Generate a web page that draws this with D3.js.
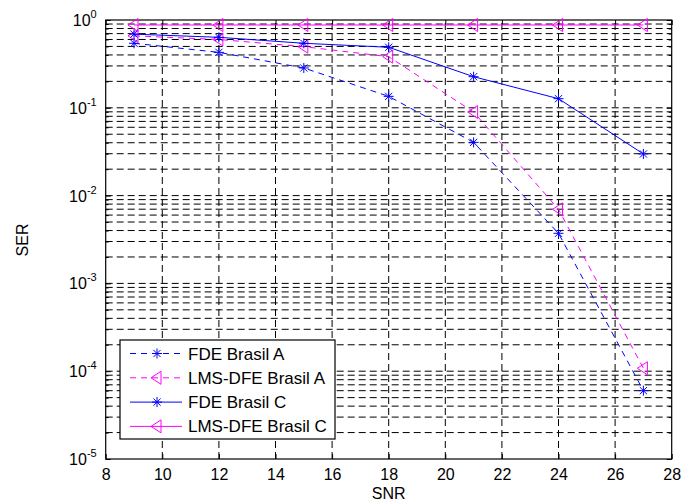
<!DOCTYPE html>
<html>
<head>
<meta charset="utf-8">
<script src="https://cdn.jsdelivr.net/npm/d3@7"></script>
<style>
  body { margin: 0; background: #fff; }
  svg { font-family: "Liberation Sans", Arial, sans-serif; }
</style>
</head>
<body>
<svg id="chart" width="697" height="504"></svg>
<script>
// dati
var snr = [9, 12, 15, 18, 21, 24, 27];
var fdeA = [0.543, 0.428, 0.284, 0.135, 0.0404, 0.00372, 6.0e-5];
var lmsA = [0.66, 0.60, 0.497, 0.382, 0.0896, 0.00698, 1.08e-4];
var fdeC = [0.69, 0.635, 0.543, 0.489, 0.226, 0.127, 0.0298];
var lmsC = [0.877, 0.877, 0.877, 0.877, 0.877, 0.877, 0.877];
var seriesNames = ["FDE Brasil A", "LMS-DFE Brasil A", "FDE Brasil C", "LMS-DFE Brasil C"];
var xTicks = [8, 10, 12, 14, 16, 18, 20, 22, 24, 26, 28];
var yDecades = [1e-5, 1e-4, 1e-3, 1e-2, 1e-1, 1];
var yExps = [-5, -4, -3, -2, -1, 0];

var svg = d3.select("#chart");
var pLeft = 105.7, pRight = 671.7, pTop = 20, pBottom = 459;

var x = d3.scaleLinear().domain([8, 28]).range([pLeft, pRight]);
var y = d3.scaleLog().domain([1e-5, 1]).range([pBottom, pTop]);

// valori minori della scala log
var minor = [];
yDecades.slice(0, 5).forEach(d => {
  for (var k = 2; k <= 9; k++) minor.push(d * k);
});

// griglia tratteggiata
var grid = svg.append("g").attr("stroke", "#000").attr("stroke-width", 1)
  .attr("stroke-dasharray", "7,4").attr("fill", "none");
xTicks.slice(1, -1).forEach(t => {
  grid.append("line").attr("x1", x(t)).attr("x2", x(t)).attr("y1", pBottom).attr("y2", pTop);
});
yDecades.slice(1, -1).concat(minor).forEach(v => {
  grid.append("line").attr("x1", pLeft).attr("x2", pRight).attr("y1", y(v)).attr("y2", y(v));
});

// assi con tacche interne
var gx = svg.append("g").attr("transform", `translate(0,${pBottom})`)
  .call(d3.axisBottom(x).tickValues(xTicks).tickSize(-5).tickPadding(10).tickFormat(d3.format("d")));
svg.append("g").attr("transform", `translate(0,${pTop})`)
  .call(d3.axisTop(x).tickValues(xTicks).tickSize(-5).tickFormat(""));
svg.append("g").attr("transform", `translate(${pLeft},0)`)
  .call(d3.axisLeft(y).tickValues(yDecades).tickSize(-5).tickFormat(""));
svg.append("g").attr("transform", `translate(${pRight},0)`)
  .call(d3.axisRight(y).tickValues(yDecades).tickSize(-5).tickFormat(""));
svg.append("g").attr("transform", `translate(${pLeft},0)`)
  .call(d3.axisLeft(y).tickValues(minor).tickSize(-3).tickFormat(""));
svg.append("g").attr("transform", `translate(${pRight},0)`)
  .call(d3.axisRight(y).tickValues(minor).tickSize(-3).tickFormat(""));

svg.selectAll(".domain").remove();
svg.selectAll(".tick line").attr("stroke", "#000");
gx.selectAll("text").attr("font-size", 16).attr("fill", "#000")
  .attr("font-family", "Liberation Sans, Arial, sans-serif");

// etichette 10^n
var ylab = svg.append("g");
yDecades.forEach((v, i) => {
  var t = ylab.append("text").attr("x", pLeft - 9).attr("y", y(v) + 6)
    .attr("text-anchor", "end").attr("font-size", 16).attr("fill", "#000");
  t.append("tspan").text("10");
  t.append("tspan").attr("dy", -8).attr("font-size", 11).text(yExps[i]);
});

// cornice
svg.append("rect").attr("x", pLeft).attr("y", pTop).attr("width", pRight - pLeft)
  .attr("height", pBottom - pTop).attr("fill", "none").attr("stroke", "#000").attr("stroke-width", 1.2);

// titoli assi
svg.append("text").attr("x", (pLeft + pRight) / 2).attr("y", 499).attr("text-anchor", "middle")
  .attr("font-size", 16).text("SNR");
svg.append("text").attr("transform", "translate(28,240) rotate(-90)").attr("text-anchor", "middle")
  .attr("font-size", 16).text("SER");

// marker
function star(g, cx, cy, color) {
  var r = 5, d = 3.6;
  g.append("path")
    .attr("d", `M${cx - r},${cy}L${cx + r},${cy}M${cx},${cy - r}L${cx},${cy + r}` +
      `M${cx - d},${cy - d}L${cx + d},${cy + d}M${cx - d},${cy + d}L${cx + d},${cy - d}`)
    .attr("stroke", color).attr("stroke-width", 1).attr("fill", "none");
}
function tri(g, cx, cy, color) {
  g.append("path")
    .attr("d", `M${cx - 6},${cy}L${cx + 4},${cy - 6.5}L${cx + 4},${cy + 6.5}Z`)
    .attr("stroke", color).attr("stroke-width", 1).attr("fill", "none");
}

var series = [
  { name: seriesNames[0], vals: fdeA, color: "#0000ff", dash: "6,5", mark: star },
  { name: seriesNames[1], vals: lmsA, color: "#ff00ff", dash: "6,5", mark: tri },
  { name: seriesNames[2], vals: fdeC, color: "#0000ff", dash: null, mark: star },
  { name: seriesNames[3], vals: lmsC, color: "#ff00ff", dash: null, mark: tri }
];

var line = d3.line().x(d => x(d[0])).y(d => y(d[1]));
series.forEach(s => {
  var g = svg.append("g");
  var pts = snr.map((v, i) => [v, s.vals[i]]);
  g.append("path").attr("d", line(pts)).attr("fill", "none")
    .attr("stroke", s.color).attr("stroke-width", 1)
    .attr("stroke-dasharray", s.dash);
  pts.forEach(p => s.mark(g, x(p[0]), y(p[1]), s.color));
});

// legenda
var lg = svg.append("g");
lg.append("rect").attr("x", 120).attr("y", 340).attr("width", 215).attr("height", 99)
  .attr("fill", "#fff").attr("stroke", "#000").attr("stroke-width", 1.2);
series.forEach((s, i) => {
  var yy = 353.5 + i * 24.3;
  lg.append("line").attr("x1", 130).attr("x2", 182).attr("y1", yy).attr("y2", yy)
    .attr("stroke", s.color).attr("stroke-width", 1).attr("stroke-dasharray", s.dash);
  s.mark(lg, 157, yy, s.color);
  lg.append("text").attr("x", 188).attr("y", yy + 6).attr("font-size", 17).text(s.name);
});
</script>
</body>
</html>
